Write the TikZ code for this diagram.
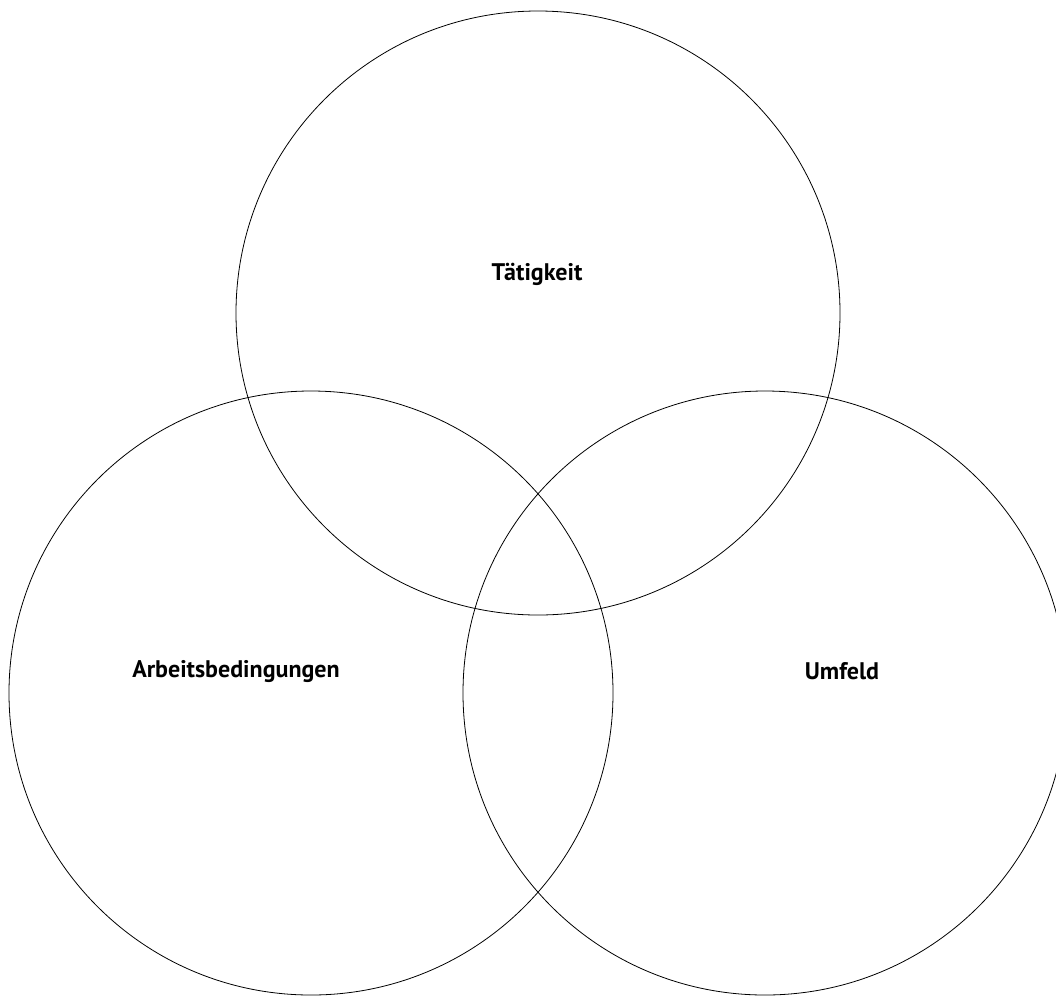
\documentclass[tikz,border=0pt]{standalone}
\usepackage{fontspec}
\setmainfont{PT Sans}
\usetikzlibrary{positioning}

\begin{document}
\begin{tikzpicture}[x=0.75pt, y=-0.75pt,
    ring/.style={draw, circle, minimum size=453pt, inner sep=0pt, line width=0.6pt},
    label/.style={font=\bfseries\fontsize{18}{21}\selectfont}]
    % fixed frame of the picture
    \useasboundingbox (0,0) rectangle (1056,997);
    \clip (0,0) rectangle (1056,997);

    % the three circles
    \node[ring] (taet) at (538,313) {};
    \node[ring] (arb) at (311,693) {};
    \node[ring] (umf) at (765,693) {};

    % labels
    \node[label] (ltaet) at (537,274) {Tätigkeit};
    \node[label] (larb) at (236,671) {Arbeitsbedingungen};
    \node[label] (lumf) at (842,671) {Umfeld};
\end{tikzpicture}
\end{document}
